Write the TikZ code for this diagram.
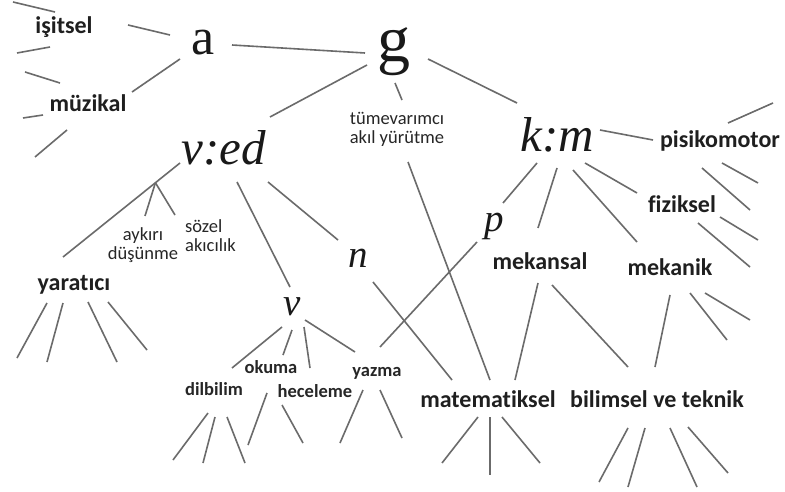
\documentclass[tikz,border=0pt]{standalone}
\usepackage{fontspec}
\setmainfont{Carlito}[Ligatures=NoCommon]
\newfontfamily\bigserif{Liberation Serif}
\usetikzlibrary{calc}
\newcommand\lnk[4]{\draw[link] ($(#1)+(#2)$) -- ($(#3)+(#4)$);}
\newcommand\stb[3]{\draw[link] ($(#1)+(#2)$) -- ++(#3);}
\begin{document}
\begin{tikzpicture}[x=1pt,y=-1pt,
  lbl/.style={font=\fontsize{24}{26}\selectfont\bfseries, inner sep=0pt, anchor=base, text=black!88},
  sml/.style={font=\fontsize{18.5}{20}\selectfont\bfseries, inner sep=0pt, anchor=base, text=black!85},
  thin/.style={font=\fontsize{18.5}{19}\selectfont, inner sep=0pt, align=center, text=black!85},
  bigup/.style={font=\bigserif\fontsize{52}{52}\selectfont, inner sep=0pt, anchor=base, text=black!90},
  biggest/.style={font=\bigserif\fontsize{66}{66}\selectfont, inner sep=0pt, anchor=base, text=black!90},
  bigit/.style={font=\bigserif\itshape\fontsize{49}{49}\selectfont, inner sep=0pt, anchor=base, text=black!90},
  smallit/.style={font=\bigserif\itshape\fontsize{39}{39}\selectfont, inner sep=0pt, anchor=base, text=black!90},
  link/.style={draw=black!58, line width=1.6pt}
]
\fill[white] (0,0) rectangle (785,492);
\useasboundingbox (0,0) rectangle (785,492);

% nodes
\node[lbl] (isitsel) at (64,34) {işitsel};
\node[lbl] (muzikal) at (88,112) {müzikal};
\node[bigup] (a) at (203,55) {a};
\node[biggest] (g) at (394,62) {g};
\node[thin] (tume) at (397,129) {tümevarımcı\\akıl yürütme};
\node[bigit] (ved) at (224,165) {v:ed};
\node[bigit] (km) at (557,152) {k:m};
\node[lbl] (pisi) at (720,148) {pisikomotor};
\node[lbl] (fiz) at (682,212) {fiziksel};
\node[lbl] (mekanik) at (670,275) {mekanik};
\node[lbl] (mekansal) at (540,269) {mekansal};
\node[smallit] (p) at (494,232) {p};
\node[smallit] (n) at (358,267) {n};
\node[smallit] (v) at (292,315) {v};
\node[lbl] (mat) at (488,407) {matematiksel};
\node[lbl] (bil) at (657,407) {bilimsel ve teknik};
\node[lbl] (yar) at (74,290) {yaratıcı};
\node[thin] (ayk) at (143,245) {aykırı\\düşünme};
\node[thin, align=left, anchor=west] (soz) at (185,236) {sözel\\akıcılık};
\node[sml] (okuma) at (271,373) {okuma};
\node[sml] (dil) at (214,395) {dilbilim};
\node[sml] (hec) at (315,397) {heceleme};
\node[sml] (yaz) at (377,376) {yazma};

% connectors
\lnk{isitsel.base}{64,-9}{a.base}{-33,-20}
\lnk{muzikal.base}{44,-20}{a.base}{-23,4}
\lnk{a.base}{29,-10}{g.base}{-29,-9}
\lnk{g.base}{-27,3}{ved.base}{46,-48}
\lnk{g.base}{1,21}{tume.center}{5,-29}
\lnk{g.base}{34,-3}{km.base}{-40,-49}
\lnk{km.base}{43,-22}{pisi.base}{-67,-8}
\lnk{km.base}{-20,11}{p.base}{9,-29}
\lnk{km.base}{0,16}{mekansal.base}{-2,-41}
\lnk{km.base}{16,18}{mekanik.base}{-33,-33}
\lnk{km.base}{28,11}{fiz.base}{-45,-19}
\draw[link] ($(ved.base)+(-44,-2)$) -- coordinate[pos=0.21] (br) ($(yar.base)+(-11,-33)$);
\draw[link] (br) -- ($(ayk.center)+(2,-29)$);
\draw[link] (br) -- ($(soz.west)+(-10,-21)$);
\lnk{ved.base}{44,17}{n.base}{-20,-27}
\lnk{ved.base}{13,17}{v.base}{-2,-28}
\lnk{tume.center}{11,33}{mat.base}{2,-27}
\lnk{n.base}{15,15}{mat.base}{-36,-27}
\lnk{p.base}{-17,10}{yaz.base}{3,-29}
\lnk{mekansal.base}{-2,14}{mat.base}{27,-27}
\lnk{mekansal.base}{12,16}{bil.base}{-29,-40}
\lnk{mekanik.base}{0,20}{bil.base}{-2,-40}
\lnk{v.base}{-10,12}{dil.base}{18,-27}
\lnk{v.base}{0,15}{okuma.base}{12,-18}
\lnk{v.base}{12,12}{hec.base}{-5,-29}
\lnk{v.base}{13,5}{yaz.base}{-22,-24}

% stubs
\stb{isitsel.base}{-9,-22}{-42,-10}
\stb{isitsel.base}{-14,13}{-33,6}
\stb{muzikal.base}{-28,-29}{-35,-11}
\stb{muzikal.base}{-45,3}{-20,3}
\stb{muzikal.base}{-21,18}{-32,27}
\stb{pisi.base}{8,-25}{45,-20}
\stb{pisi.base}{2,15}{36,20}
\stb{pisi.base}{-18,20}{48,42}
\stb{fiz.base}{38,5}{38,23}
\stb{fiz.base}{16,11}{52,44}
\stb{mekanik.base}{35,18}{45,27}
\stb{mekanik.base}{20,18}{37,47}
\stb{yar.base}{-27,13}{-30,55}
\stb{yar.base}{-11,13}{-16,59}
\stb{yar.base}{14,12}{29,60}
\stb{yar.base}{34,12}{39,48}
\stb{dil.base}{-6,18}{-35,47}
\stb{dil.base}{1,22}{-12,46}
\stb{dil.base}{13,22}{18,46}
\stb{okuma.base}{-4,20}{-19,52}
\stb{hec.base}{-33,8}{21,38}
\stb{yaz.base}{-14,14}{-23,53}
\stb{yaz.base}{3,14}{22,48}
\stb{mat.base}{-10,10}{-36,46}
\stb{mat.base}{2,10}{0,58}
\stb{mat.base}{14,10}{38,46}
\stb{bil.base}{-29,21}{-29,54}
\stb{bil.base}{-12,21}{-17,59}
\stb{bil.base}{13,21}{27,59}
\stb{bil.base}{31,20}{40,46}
\end{tikzpicture}
\end{document}
